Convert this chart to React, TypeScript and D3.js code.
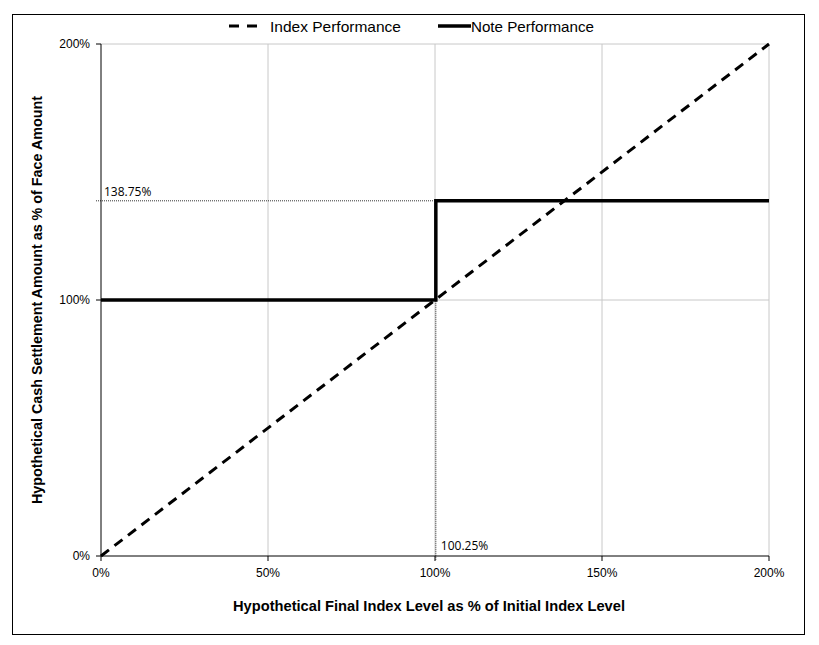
import React from "react";
import * as d3 from "d3";

const indexX = [0, 200];
const indexY = [0, 200];
const noteX = [0, 100.25, 100.25, 200];
const noteY = [100, 100, 138.75, 138.75];
const xTicks = [0, 50, 100, 150, 200];
const yTicks = [0, 100, 200];
const capLevel = 138.75;
const thresholdLevel = 100.25;
const legendLabels = ["Index Performance", "Note Performance"];
const xTitle = "Hypothetical Final Index Level as % of Initial Index Level";
const yTitle = "Hypothetical Cash Settlement Amount as % of Face Amount";

export default function App() {
  const W = 819, H = 645;
  const x = d3.scaleLinear().domain([0, 200]).range([101, 769]);
  const y = d3.scaleLinear().domain([0, 200]).range([556, 44]);
  const line = d3.line<[number, number]>().x(d => x(d[0])).y(d => y(d[1]));
  const indexPts = indexX.map((v, i) => [v, indexY[i]] as [number, number]);
  const notePts = noteX.map((v, i) => [v, noteY[i]] as [number, number]);
  const font = "'Liberation Sans', Arial, sans-serif";
  const annFont = "'Open Sans', 'DejaVu Sans', sans-serif";
  return (
    <svg width={W} height={H} style={{ position: "absolute", left: 0, top: 0, background: "#fff" }}>
      <rect x={0} y={0} width={W} height={H} fill="#fff" />
      <rect x={12.5} y={14.5} width={792} height={620} fill="none" stroke="#000" strokeWidth={1} />
      {xTicks.filter(t => t > 0).map(t => (
        <line key={"gx" + t} x1={x(t)} x2={x(t)} y1={y(0)} y2={y(200)} stroke="#c8c8c8" strokeWidth={1} />
      ))}
      {yTicks.filter(t => t > 0).map(t => (
        <line key={"gy" + t} x1={x(0)} x2={x(200)} y1={y(t)} y2={y(t)} stroke="#c8c8c8" strokeWidth={1} />
      ))}
      <line x1={x(0) - 5} x2={x(thresholdLevel)} y1={y(capLevel)} y2={y(capLevel)} stroke="#000" strokeWidth={0.8} strokeDasharray="1,1" />
      <line x1={x(thresholdLevel)} x2={x(thresholdLevel)} y1={y(capLevel)} y2={y(0) + 4} stroke="#000" strokeWidth={0.8} strokeDasharray="1,1" />
      <line x1={x(0)} x2={x(0)} y1={y(0)} y2={y(200)} stroke="#000" strokeWidth={1} />
      <line x1={x(0)} x2={x(200)} y1={y(0)} y2={y(0)} stroke="#000" strokeWidth={1} />
      {yTicks.map(t => (
        <g key={"yt" + t}>
          <line x1={x(0) - 5} x2={x(0)} y1={y(t)} y2={y(t)} stroke="#000" />
          <text x={x(0) - 11} y={y(t) + 4} textAnchor="end" fontSize={12} fontFamily={font}>{t}%</text>
        </g>
      ))}
      {xTicks.map(t => (
        <g key={"xt" + t}>
          <line x1={x(t)} x2={x(t)} y1={y(0)} y2={y(0) + 5} stroke="#000" />
          <text x={x(t)} y={y(0) + 21} textAnchor="middle" fontSize={12} fontFamily={font}>{t}%</text>
        </g>
      ))}
      <path d={line(indexPts) || ""} fill="none" stroke="#000" strokeWidth={3} strokeDasharray="10,7" />
      <path d={line(notePts) || ""} fill="none" stroke="#000" strokeWidth={3.5} />
      <text x={x(0) + 3} y={y(capLevel) - 5} fontSize={12} fontFamily={annFont}>{capLevel}%</text>
      <text x={x(thresholdLevel) + 5} y={y(0) - 6} fontSize={12} fontFamily={annFont}>{thresholdLevel}%</text>
      <line x1={229} x2={262} y1={26} y2={26} stroke="#000" strokeWidth={3} strokeDasharray="10,8" />
      <text x={270} y={32} fontSize={15} fontFamily={font} textLength={131} lengthAdjust="spacingAndGlyphs">{legendLabels[0]}</text>
      <line x1={438} x2={471} y1={26} y2={26} stroke="#000" strokeWidth={3.5} />
      <text x={471} y={32} fontSize={15} fontFamily={font} textLength={123} lengthAdjust="spacingAndGlyphs">{legendLabels[1]}</text>
      <text x={233} y={611} fontSize={15} fontWeight="bold" fontFamily={font} textLength={392} lengthAdjust="spacingAndGlyphs">{xTitle}</text>
      <text transform={`translate(42, 504) rotate(-90)`} fontSize={15} fontWeight="bold" fontFamily={font} textLength={408} lengthAdjust="spacingAndGlyphs">{yTitle}</text>
    </svg>
  );
}
